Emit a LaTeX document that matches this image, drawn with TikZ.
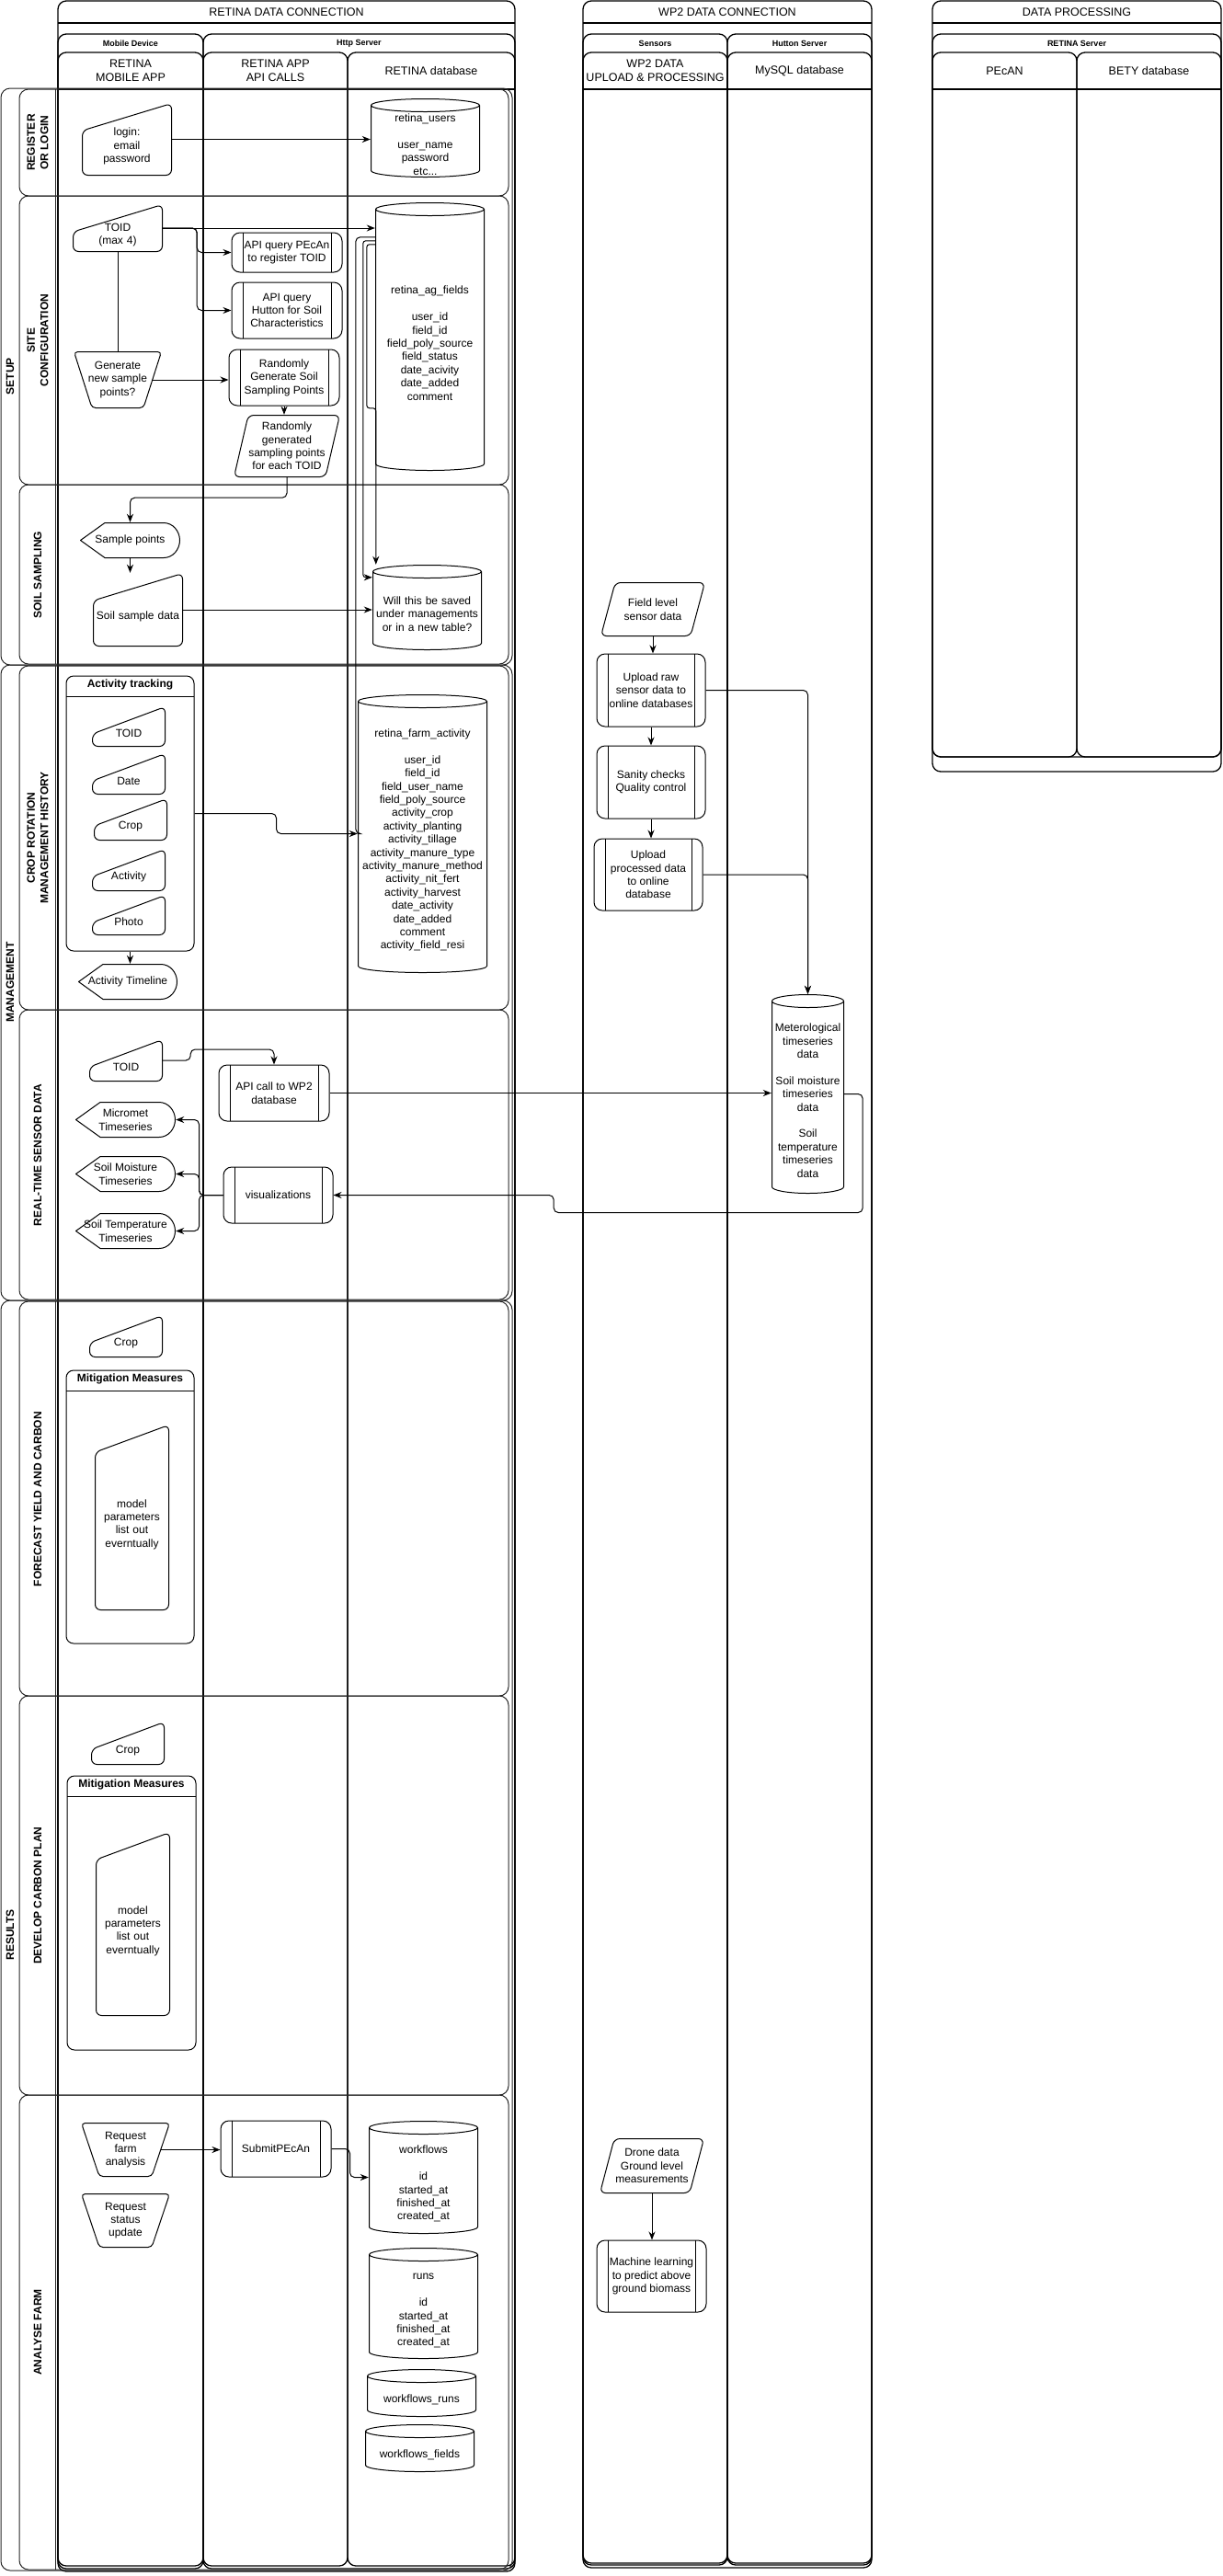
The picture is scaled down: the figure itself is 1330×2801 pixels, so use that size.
\documentclass[tikz,border=0pt]{standalone}
\usepackage{fontspec}
\setmainfont{Liberation Sans}
\usetikzlibrary{positioning,arrows.meta,calc}

\newcommand{\ppbb}{path picture bounding box}

\begin{document}
\begin{tikzpicture}[
    x=1pt, y=-1pt,
    font=\fontsize{12}{14.4}\selectfont,
    sz/.style 2 args={minimum width=#1pt, minimum height=#2pt},
    szt/.style 2 args={minimum width=#1pt, minimum height=#2pt, text width=#1pt-2pt},
    frame/.style={draw=black, line width=1.3pt, rounded corners=9pt},
    lanebox/.style={draw=black!85, line width=1pt, rounded corners=10pt},
    lanelbl/.style={font=\bfseries\fontsize{12}{14.4}\selectfont, rotate=90, align=center},
    poolttl/.style={font=\fontsize{12.5}{15}\selectfont},
    subttl/.style={font=\bfseries\fontsize{9}{11}\selectfont},
    colttl/.style={font=\fontsize{12.5}{15}\selectfont, align=center},
    shp/.style={draw=black, line width=1pt},
    base/.style={rectangle, inner sep=1pt, align=center, fill=white},
    proc/.style={base, shp, rounded corners=9pt, path picture={
        \draw[shp] ([xshift=12pt]\ppbb.north west) -- ([xshift=12pt]\ppbb.south west)
                   ([xshift=-12pt]\ppbb.north east) -- ([xshift=-12pt]\ppbb.south east);}},
    manin/.style={base, execute at begin node={\rule{0pt}{24pt}}, path picture={
        \draw[shp, rounded corners=6pt] ([shift={(0.5pt,-30pt)}]\ppbb.north west) -- ([shift={(-0.5pt,-0.5pt)}]\ppbb.north east)
            -- ([shift={(-0.5pt,0.5pt)}]\ppbb.south east) -- ([shift={(0.5pt,0.5pt)}]\ppbb.south west) -- cycle;}},
    manop/.style={base, path picture={
        \draw[shp, rounded corners=4pt] ([shift={(0.5pt,-0.5pt)}]\ppbb.north west) -- ([shift={(-0.5pt,-0.5pt)}]\ppbb.north east)
            -- ([shift={(-20pt,0.5pt)}]\ppbb.south east) -- ([shift={(20pt,0.5pt)}]\ppbb.south west) -- cycle;}},
    dataio/.style={base, path picture={
        \draw[shp, rounded corners=6pt] ([shift={(0.5pt,0.5pt)}]\ppbb.south west) -- ([shift={(16pt,-0.5pt)}]\ppbb.north west)
            -- ([shift={(-0.5pt,-0.5pt)}]\ppbb.north east) -- ([shift={(-16pt,0.5pt)}]\ppbb.south east) -- cycle;}},
    disp/.style={base, path picture={
        \draw[shp] ([xshift=0.5pt]\ppbb.west) -- ([shift={(27pt,-0.5pt)}]\ppbb.north west) -- ([shift={(-18pt,-0.5pt)}]\ppbb.north east)
            .. controls ([shift={(-8pt,-0.5pt)}]\ppbb.north east) and ([shift={(-0.5pt,10pt)}]\ppbb.east) .. ([xshift=-0.5pt]\ppbb.east)
            .. controls ([shift={(-0.5pt,-10pt)}]\ppbb.east) and ([shift={(-8pt,0.5pt)}]\ppbb.south east) .. ([shift={(-18pt,0.5pt)}]\ppbb.south east)
            -- ([shift={(27pt,0.5pt)}]\ppbb.south west) -- cycle;}},
    dbcyl/.style={base, inner sep=0pt, execute at begin node={\rule{0pt}{23pt}}, path picture={
        \draw[shp] let \p1=(\ppbb.north west), \p2=(\ppbb.south east), \n1={(\x2-\x1)/2} in
            (\x1+0.5pt,\y1-7.5pt) -- (\x1+0.5pt,\y2+7.5pt)
            arc[start angle=180, end angle=360, x radius=\n1-0.5pt, y radius=7pt]
            -- (\x2-0.5pt,\y1-7.5pt)
            arc[start angle=0, end angle=180, x radius=\n1-0.5pt, y radius=7pt]
            arc[start angle=180, end angle=360, x radius=\n1-0.5pt, y radius=7pt];}},
    cont/.style={rectangle, shp, rounded corners=8pt, fill=white, path picture={
        \draw[shp] ([yshift=-22pt]\ppbb.north west) -- ([yshift=-22pt]\ppbb.north east);}},
    contttl/.style={font=\bfseries\fontsize{12}{14.4}\selectfont, inner sep=0pt},
    arr/.style={-{Stealth[length=9pt, width=7pt]}, line width=1pt, draw=black, rounded corners=5pt},
    conn/.style={line width=1pt, draw=black, rounded corners=5pt}
]

\useasboundingbox (0,0) rectangle (1330,2801);

% RETINA DATA CONNECTION pool
\draw[frame] (63,1) rectangle (560,2796);
\draw[frame] (63,25) -- (560,25);
\node[poolttl] (retinattl) at (311.5,13) {RETINA DATA CONNECTION};
\draw[frame] (63,37) rectangle (221,2793);
\draw[frame] (221,37) rectangle (560,2793);
\node[subttl] (mobdev) at (142,47) {Mobile Device};
\node[subttl] (httpsrv) at (390.5,47) {Http Server};
\draw[frame] (63,57) rectangle (221,2790);
\draw[frame] (221,57) rectangle (378,2790);
\draw[frame] (378,57) rectangle (560,2790);
\draw[frame] (63,97) -- (560,97);
\node[colttl] (mobapp) at (142,77) {RETINA\\MOBILE APP};
\node[colttl] (apicalls) at (299.5,77) {RETINA APP\\API CALLS};
\node[colttl] (retinadb) at (469,77) {RETINA database};

% WP2 DATA CONNECTION pool
\draw[frame] (634,1) rectangle (948,2792);
\draw[frame] (634,25) -- (948,25);
\node[poolttl] (wp2ttl) at (791,13) {WP2 DATA CONNECTION};
\draw[frame] (634,37) rectangle (791,2789);
\draw[frame] (791,37) rectangle (948,2789);
\node[subttl] (sensors) at (712.5,47) {Sensors};
\node[subttl] (huttonsrv) at (869.5,47) {Hutton Server};
\draw[frame] (634,57) rectangle (791,2787);
\draw[frame] (791,57) rectangle (948,2787);
\draw[frame] (634,97) -- (948,97);
\node[colttl] (wp2col) at (712.5,77) {WP2 DATA\\UPLOAD \& PROCESSING};
\node[colttl] (mysqlcol) at (869.5,77) {MySQL database};

% DATA PROCESSING pool
\draw[frame] (1014,1) rectangle (1328,839);
\draw[frame] (1014,25) -- (1328,25);
\node[poolttl] (dpttl) at (1171,13) {DATA PROCESSING};
\draw[frame] (1014,37) rectangle (1328,823);
\node[subttl] (retsrv) at (1171,47) {RETINA Server};
\draw[frame] (1014,57) rectangle (1171,823);
\draw[frame] (1171,57) rectangle (1328,823);
\draw[frame] (1014,97) -- (1328,97);
\node[colttl] (pecancol) at (1092.5,77) {PEcAN};
\node[colttl] (betycol) at (1249.5,77) {BETY database};

% Lanes: SETUP
\draw[lanebox] (1,96) rectangle (557,723);
\node[lanelbl] (setuplbl) at (11,409) {SETUP};
\draw[lanebox] (21,97) rectangle (553,213);
\draw[lanebox] (60,97) -- (60,213);
\node[lanelbl] (reglbl) at (41,155) {REGISTER\\OR LOGIN};
\draw[lanebox] (21,213) rectangle (553,527);
\draw[lanebox] (60,213) -- (60,527);
\node[lanelbl] (sitelbl) at (41,370) {SITE\\CONFIGURATION};
\draw[lanebox] (21,527) rectangle (553,722);
\draw[lanebox] (60,527) -- (60,722);
\node[lanelbl] (soillbl) at (41,625) {SOIL SAMPLING};

% Lanes: MANAGEMENT
\draw[lanebox] (1,723) rectangle (557,1414);
\node[lanelbl] (mgmtlbl) at (11,1068) {MANAGEMENT};
\draw[lanebox] (21,724) rectangle (553,1098);
\draw[lanebox] (60,724) -- (60,1098);
\node[lanelbl] (croplbl) at (41,911) {CROP ROTATION\\MANAGEMENT HISTORY};
\draw[lanebox] (21,1098) rectangle (553,1413);
\draw[lanebox] (60,1098) -- (60,1413);
\node[lanelbl] (rtlbl) at (41,1256) {REAL-TIME SENSOR DATA};

% Lanes: RESULTS
\draw[lanebox] (1,1414) rectangle (557,2795);
\node[lanelbl] (reslbl) at (11,2104) {RESULTS};
\draw[lanebox] (21,1415) rectangle (553,1844);
\draw[lanebox] (60,1415) -- (60,1844);
\node[lanelbl] (fclbl) at (41,1630) {FORECAST YIELD AND CARBON};
\draw[lanebox] (21,1844) rectangle (553,2278);
\draw[lanebox] (60,1844) -- (60,2278);
\node[lanelbl] (devlbl) at (41,2061) {DEVELOP CARBON PLAN};
\draw[lanebox] (21,2278) rectangle (553,2794);
\draw[lanebox] (60,2278) -- (60,2794);
\node[lanelbl] (anlbl) at (41,2536) {ANALYSE FARM};

% Register or login
\node[manin, szt={98}{79}] (login) at (138,151.5) {login:\\email\\password};
\node[dbcyl, szt={119}{86}] (users) at (462.5,150) {retina\_users\\\mbox{}\\user\_name\\password\\etc...};

% Site configuration
\node[manin, szt={98}{52}] (toidmax) at (128,248) {TOID\\(max 4)};
\node[manop, sz={96}{62}] (gensample) at (128,413) {Generate\\new sample\\points?};
\node[proc, sz={120}{43}] (pecanreg) at (312,274.5) {API query PEcAn\\to register TOID};
\node[proc, sz={120}{61}] (huttonq) at (312,337.5) {API query\\Hutton for Soil\\Characteristics};
\node[proc, sz={120}{61}] (randgen) at (309,410.5) {Randomly\\Generate Soil\\Sampling Points};
\node[dataio, sz={116}{68}] (randpts) at (312,485) {Randomly\\generated\\sampling points\\for each TOID};
\node[dbcyl, szt={119}{292}] (agfields) at (467.5,366) {retina\_ag\_fields\\\mbox{}\\user\_id\\field\_id\\field\_poly\_source\\field\_status\\date\_acivity\\date\_added\\comment};

% Soil sampling
\node[disp, sz={109}{39}] (samplepts) at (141.5,587.5) {Sample points};
\node[manin, szt={98}{80}] (soildata) at (150,663) {Soil sample data};
\node[dbcyl, szt={119}{93}] (savedq) at (464.5,660.5) {Will this be saved\\under managements\\or in a new table?};

% Crop rotation
\node[cont, sz={139}{299}] (acttrack) at (141.5,884.5) {};
\node[contttl, below=4pt of acttrack.north] (acttrackttl) {Activity tracking};
\node[manin, szt={80}{44}] (acttoid) at (140,790) {TOID};
\node[manin, szt={80}{45}] (actdate) at (140,841.5) {Date};
\node[manin, szt={80}{46}] (actcrop) at (142,891) {Crop};
\node[manin, szt={80}{46}] (actactivity) at (140,946) {Activity};
\node[manin, szt={80}{44}] (actphoto) at (140,995) {Photo};
\node[disp, sz={108}{39}] (timeline) at (139,1067.5) {Activity Timeline};
\node[dbcyl, szt={141}{303}] (farmact) at (459.5,906.5) {retina\_farm\_activity\\\mbox{}\\user\_id\\field\_id\\field\_user\_name\\field\_poly\_source\\activity\_crop\\activity\_planting\\activity\_tillage\\activity\_manure\_type\\activity\_manure\_method\\activity\_nit\_fert\\activity\_harvest\\date\_activity\\date\_added\\comment\\activity\_field\_resi};

% Real-time sensor data
\node[manin, szt={80}{46}] (rtoid) at (137,1153) {TOID};
\node[disp, sz={109}{39}] (micromet) at (136.5,1217.5) {Micromet\\Timeseries};
\node[disp, sz={109}{39}] (soilmoist) at (136.5,1276.5) {Soil Moisture\\Timeseries};
\node[disp, sz={109}{39}] (soiltemp) at (136.5,1338.5) {Soil Temperature\\Timeseries};
\node[proc, sz={120}{61}] (wp2call) at (298,1188.5) {API call to WP2\\database};
\node[proc, sz={119}{61}] (visual) at (302.5,1299.5) {visualizations};

% Forecast yield and carbon
\node[manin, szt={80}{46}] (fcrop) at (137,1453) {Crop};
\node[cont, sz={139}{297}] (fmitig) at (141.5,1638.5) {};
\node[contttl, below=4pt of fmitig.north] (fmitigttl) {Mitigation Measures};
\node[manin, szt={81}{202}] (fmodel) at (143.5,1650) {model\\parameters\\list out\\everntually};

% Develop carbon plan
\node[manin, szt={80}{47}] (dcrop) at (139,1895.5) {Crop};
\node[cont, sz={140}{298}] (dmitig) at (143,2080) {};
\node[contttl, below=4pt of dmitig.north] (dmitigttl) {Mitigation Measures};
\node[manin, szt={81}{200}] (dmodel) at (144.5,2092) {model\\parameters\\list out\\everntually};

% Analyse farm
\node[manop, sz={97}{59}] (reqfarm) at (136.5,2337.5) {Request\\farm\\analysis};
\node[manop, sz={97}{59}] (reqstatus) at (136.5,2414.5) {Request\\status\\update};
\node[proc, sz={120}{61}] (submit) at (300,2336.5) {SubmitPEcAn};
\node[dbcyl, szt={119}{123}] (workflows) at (460.5,2367.5) {workflows\\\mbox{}\\id\\started\_at\\finished\_at\\created\_at};
\node[dbcyl, szt={119}{121}] (runs) at (460.5,2504.5) {runs\\\mbox{}\\id\\started\_at\\finished\_at\\created\_at};
\node[dbcyl, szt={119}{52}] (wfruns) at (458.5,2602) {workflows\_runs};
\node[dbcyl, szt={119}{52}] (wffields) at (456.5,2662) {workflows\_fields};

% WP2 upload & processing
\node[dataio, sz={114}{59}] (fieldsens) at (710,662.5) {Field level\\sensor data};
\node[proc, sz={118}{79}] (uploadraw) at (708,750.5) {Upload raw\\sensor data to\\online databases};
\node[proc, sz={118}{79}] (sanity) at (708,850.5) {Sanity checks\\Quality control};
\node[proc, sz={118}{78}] (uploadproc) at (705,951) {Upload\\processed data\\to online\\database};
\node[dbcyl, szt={79}{217}] (meteo) at (878.5,1189.5) {Meterological\\timeseries\\data\\\mbox{}\\Soil moisture\\timeseries\\data\\\mbox{}\\Soil\\temperature\\timeseries\\data};
\node[dataio, sz={114}{60}] (drone) at (709,2355) {Drone data\\Ground level\\measurements};
\node[proc, sz={119}{78}] (mlbio) at (708.5,2475) {Machine learning\\to predict above\\ground biomass};

% Arrows: setup
\draw[arr] (login.east) -- (login.east -| users.west);
\draw[arr] (toidmax.east) -- (toidmax.east -| agfields.west);
\draw[arr] (toidmax.east) -- ++(37,0) |- (pecanreg.west);
\draw[arr] (toidmax.east) -- ++(37,0) |- (huttonq.west);
\draw[conn] (toidmax.south) -- (gensample.north);
\draw[arr] ([xshift=-10pt]gensample.east) -- (gensample.east -| randgen.west);
\draw[arr] (randgen.south) -- (randgen.south |- randpts.north);
\draw[arr] (randpts.south) -- ++(0,22) -| (samplepts.north);
\draw[arr] (samplepts.south) -- (samplepts.south |- soildata.north);
\draw[arr] (soildata.east) -- (soildata.east -| savedq.west);

% Field table feeds the other tables
\draw[conn] ([yshift=-38pt]agfields.north west) -- ++(-21,0) |- (farmact.west);
\draw[arr, rounded corners=3pt] ([yshift=-42pt]agfields.north west) -- ++(-13,0) |- ([yshift=-14pt]savedq.north west);
\draw[arr, rounded corners=3pt] ([yshift=-46pt]agfields.north west) -- ++(-9,0) -- ++(0,178) -| ([xshift=4pt]savedq.north west);

% Arrows: management
\draw[arr] (acttrack.east) -- ++(89,0) |- (farmact.west);
\draw[arr] (acttrack.south) -- (acttrack.south |- timeline.north);
\draw[arr] (rtoid.east) -- ++(30,0) -- ++(0,-12) -| (wp2call.north);
\draw[arr] (wp2call.east) -- (wp2call.east -| meteo.west);
\draw[arr] (meteo.east) -- ++(20,0) -- ++(0,129) -- ++(-336,0) |- (visual.east);
\draw[arr] (visual.west) -- ++(-26,0) |- (micromet.east);
\draw[arr] (visual.west) -- ++(-26,0) |- (soilmoist.east);
\draw[arr] (visual.west) -- ++(-26,0) |- (soiltemp.east);

% Arrows: WP2
\draw[arr] (fieldsens.south) -- (fieldsens.south |- uploadraw.north);
\draw[arr] (uploadraw.south) -- (sanity.north);
\draw[arr] (sanity.south) -- (sanity.south |- uploadproc.north);
\draw[arr] (uploadraw.east) -| (meteo.north);
\draw[arr] (uploadproc.east) -| (meteo.north);
\draw[arr] (drone.south) -- (drone.south |- mlbio.north);

% Arrows: results
\draw[arr] ([xshift=-10pt]reqfarm.east) -- (reqfarm.east -| submit.west);
\draw[arr] (submit.east) -- ++(20,0) |- (workflows.west);

\end{tikzpicture}
\end{document}
